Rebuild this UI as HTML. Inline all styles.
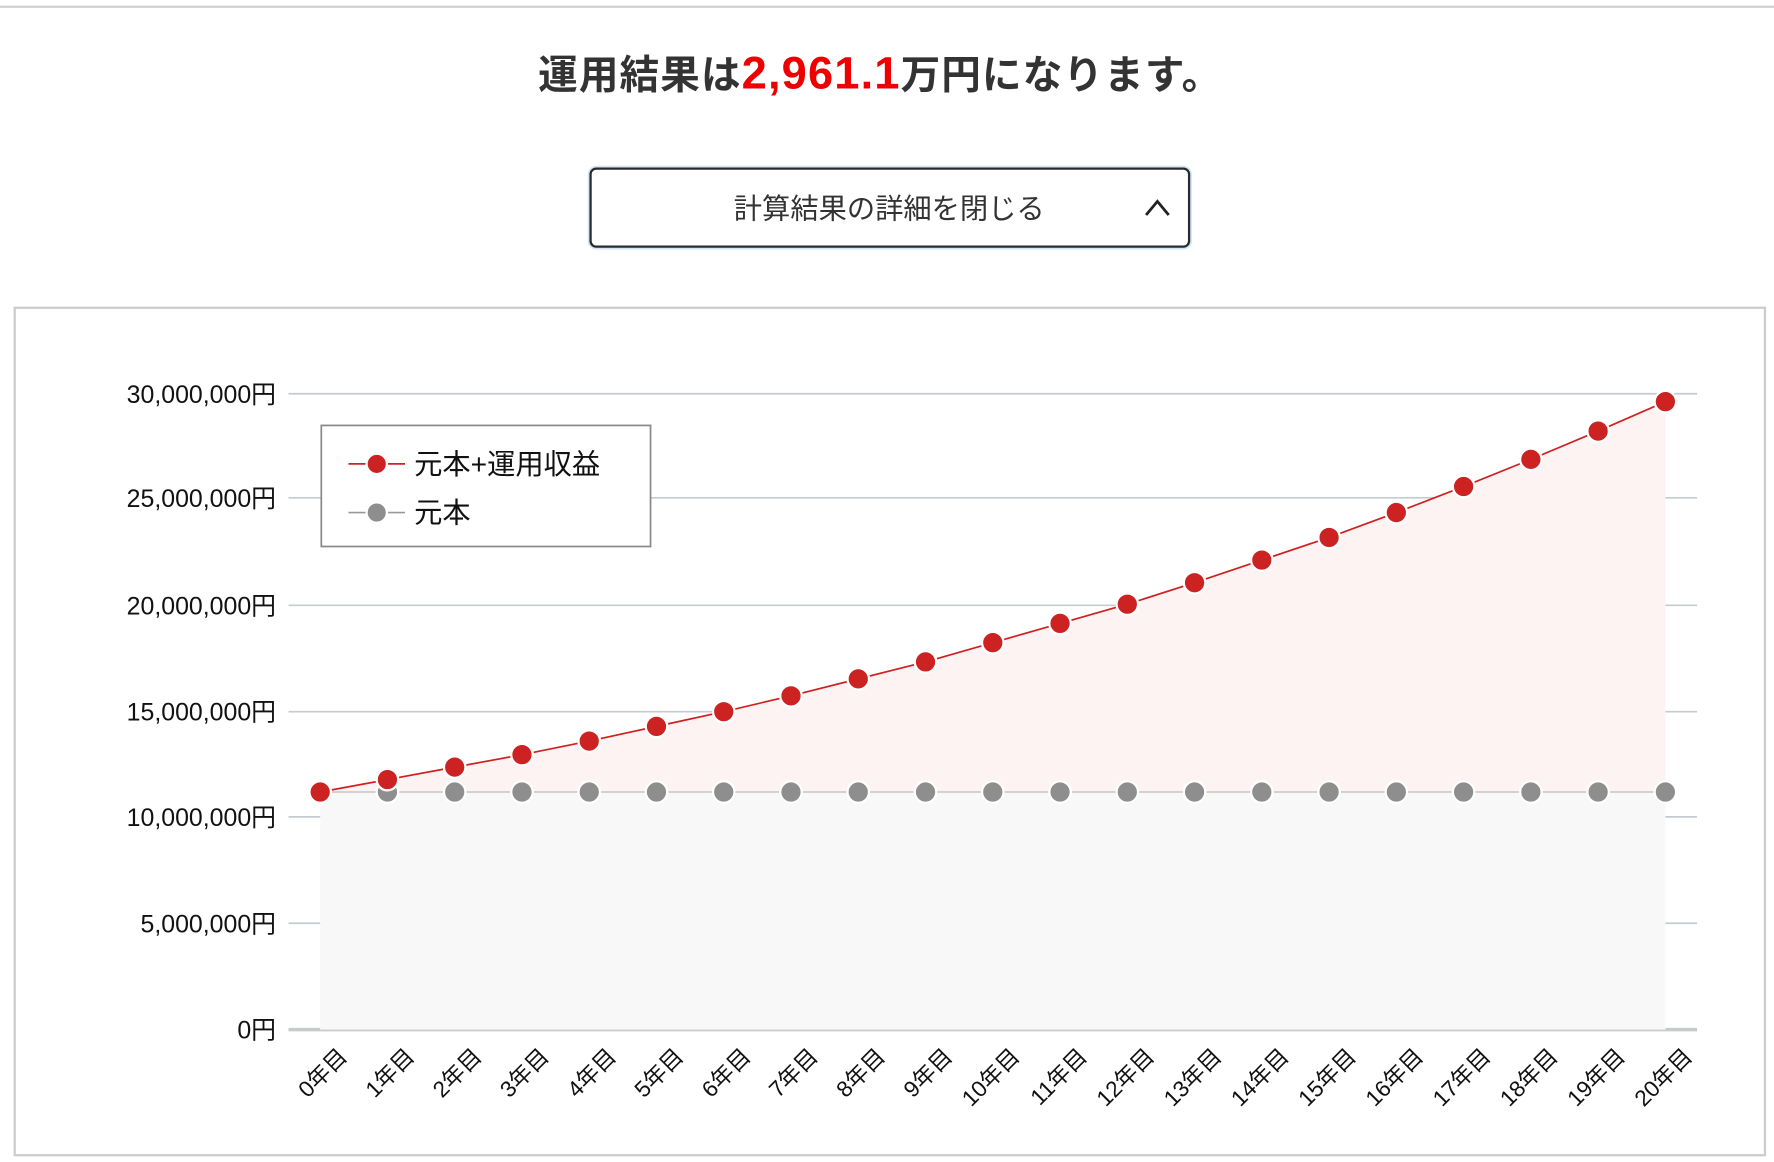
<!DOCTYPE html>
<html><head><meta charset="utf-8"><style>
html,body{margin:0;padding:0;background:#fff;width:1774px;height:1162px;overflow:hidden}
svg{display:block}
text{font-family:"Liberation Sans","Noto Sans CJK JP",sans-serif}
</style></head><body>
<svg width="1774" height="1162" viewBox="0 0 1568 1027" preserveAspectRatio="none" xmlns="http://www.w3.org/2000/svg">
<line x1="0" y1="6" x2="1568" y2="6" stroke="#d0d0d0" stroke-width="2"/>
<text x="778" y="78" text-anchor="middle" font-size="35" font-weight="bold" fill="#333" letter-spacing="1">運用結果は<tspan fill="#e00" font-size="40">2,961.1</tspan>万円になります。</text>
<rect x="522" y="149" width="529" height="69" rx="5" fill="#fff" stroke="#cfe6fb" stroke-width="5"/>
<rect x="522" y="149" width="529" height="69" rx="5" fill="#fff" stroke="#2a2a2a" stroke-width="2"/>
<text x="786" y="193" text-anchor="middle" font-size="25" fill="#333">計算結果の詳細を閉じる</text>
<polyline points="1013,190 1023,178 1033,190" fill="none" stroke="#222" stroke-width="2.5"/>
<rect x="13" y="272" width="1547" height="749" fill="#fff" stroke="#ccc" stroke-width="2"/>
<g stroke="#c5cbcf" stroke-width="1.5">
<line x1="255" y1="348" x2="1500" y2="348"/><line x1="255" y1="440" x2="1500" y2="440"/>
<line x1="255" y1="535" x2="1500" y2="535"/><line x1="255" y1="629" x2="1500" y2="629"/>
<line x1="255" y1="722" x2="1500" y2="722"/><line x1="255" y1="816" x2="1500" y2="816"/>
<line x1="255" y1="910" x2="1500" y2="910" stroke-width="3"/>
</g>
<g font-size="22" fill="#111" text-anchor="end">
<text x="244" y="356">30,000,000円</text><text x="244" y="448">25,000,000円</text>
<text x="244" y="543">20,000,000円</text><text x="244" y="637">15,000,000円</text>
<text x="244" y="730">10,000,000円</text><text x="244" y="824">5,000,000円</text>
<text x="244" y="918">0円</text>
</g>
<g id="c"></g>
<rect x="284" y="376" width="291" height="107" fill="#fff" stroke="#888" stroke-width="1.5"/>
<line x1="308" y1="410" x2="358" y2="410" stroke="#d02020" stroke-width="1.5"/>
<circle cx="333" cy="410" r="9" fill="#cc2222" stroke="#fff" stroke-width="2"/>
<text x="366" y="419" font-size="25" fill="#111">元本+運用収益</text>
<line x1="308" y1="453" x2="358" y2="453" stroke="#999" stroke-width="1.5"/>
<circle cx="333" cy="453" r="9" fill="#8e8e8e" stroke="#fff" stroke-width="2"/>
<text x="366" y="462" font-size="25" fill="#111">元本</text>
</svg>
<script>
const ys=[700,689,678,667,655,642,629,615,600,585,568,551,534,515,495,475,453,430,406,381,355];
const g=document.getElementById('c');
let h='';const X=i=>283+i*59.45;
let red=ys.map((y,i)=>X(i)+','+y).join(' ');
h+=`<polygon points="283,910 ${X(0)},700 ${X(20)},700 ${X(20)},910" fill="#f8f8f8"/>`;
h+=`<polygon points="${red} ${X(20)},700 283,700" fill="#fdf3f2"/>`;
h+=`<line x1="283" y1="700" x2="${X(20)}" y2="700" stroke="#ccc" stroke-width="1.5"/>`;
for(let i=0;i<21;i++)h+=`<circle cx="${X(i)}" cy="700" r="9.5" fill="#8e8e8e" stroke="#fff" stroke-width="2"/>`;
h+=`<polyline points="${red}" fill="none" stroke="#d02020" stroke-width="1.5"/>`;
for(let i=0;i<21;i++)h+=`<circle cx="${X(i)}" cy="${ys[i]}" r="9.5" fill="#cc2222" stroke="#fff" stroke-width="2"/>`;
for(let i=0;i<21;i++){const x=X(i)+25;h+=`<text x="${x}" y="935" font-size="20" fill="#111" text-anchor="end" transform="rotate(-45 ${x} 935)">${i}年目</text>`;}
g.innerHTML=h;
</script>
</body></html>
